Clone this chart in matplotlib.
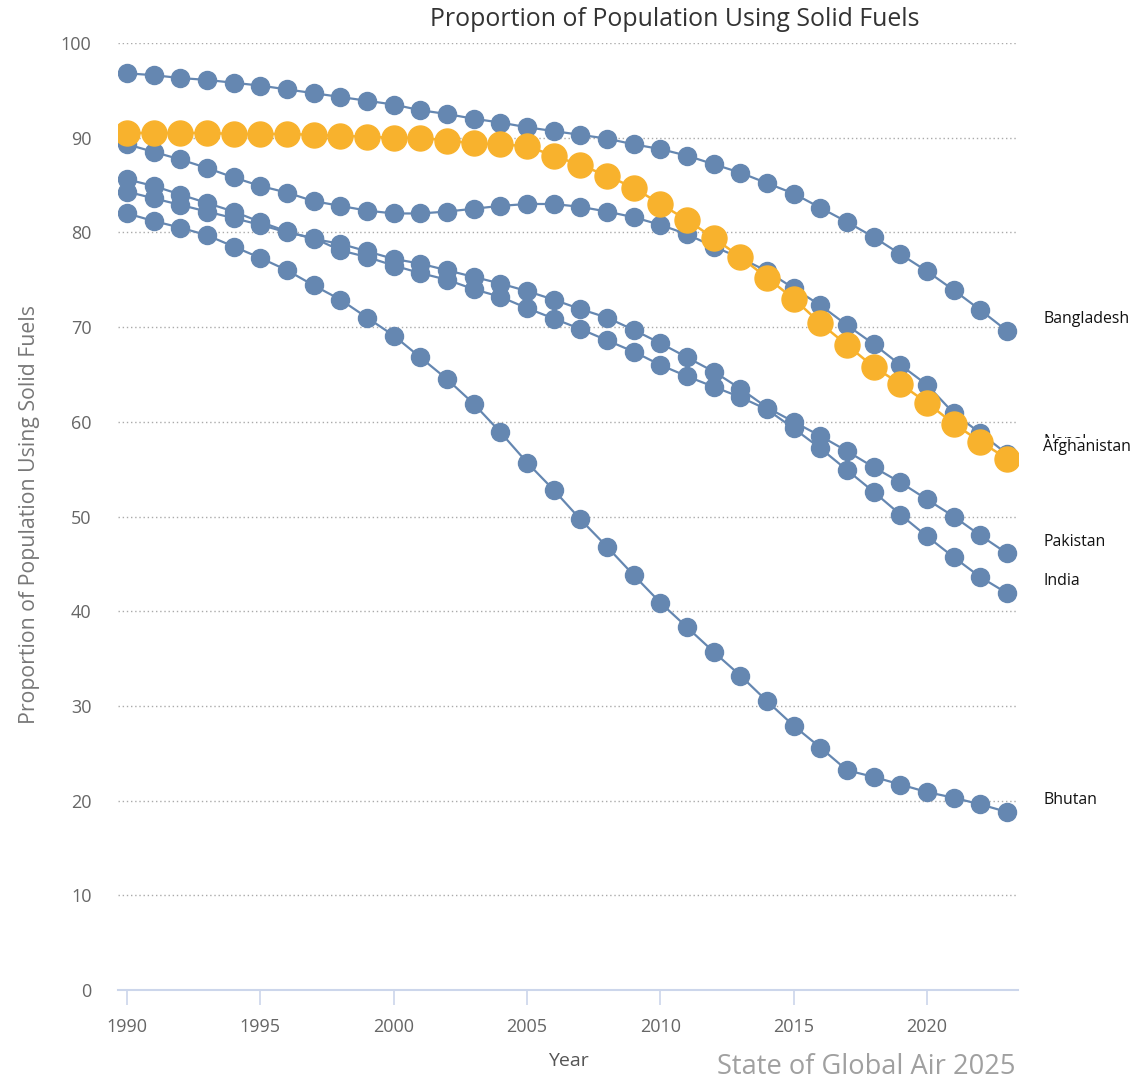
import matplotlib
matplotlib.use("Agg")
import matplotlib.pyplot as plt
import numpy as np

years = list(range(1990, 2024))

bangladesh = [96.8, 96.6, 96.3, 96.1, 95.8, 95.5, 95.1, 94.7, 94.3, 93.9,
              93.5, 92.9, 92.5, 92.0, 91.6, 91.1, 90.7, 90.3, 89.9, 89.3,
              88.8, 88.1, 87.2, 86.3, 85.2, 84.1, 82.6, 81.1, 79.5, 77.7,
              75.9, 73.9, 71.8, 69.6]
nepal = [89.3, 88.5, 87.7, 86.8, 85.8, 84.9, 84.2, 83.3, 82.8, 82.3,
         82.0, 82.0, 82.2, 82.5, 82.8, 83.0, 83.0, 82.7, 82.2, 81.6,
         80.8, 79.8, 78.5, 77.3, 75.9, 74.1, 72.3, 70.2, 68.2, 66.0,
         63.9, 60.9, 58.8, 56.6]
pakistan = [85.6, 84.9, 84.0, 83.1, 82.2, 81.1, 80.1, 79.3, 78.8, 78.0,
            77.2, 76.7, 76.0, 75.3, 74.6, 73.8, 72.9, 71.9, 71.0, 69.7,
            68.3, 66.8, 65.3, 63.5, 61.5, 60.0, 58.5, 56.9, 55.2, 53.6,
            51.8, 50.0, 48.0, 46.1]
india = [84.3, 83.6, 82.9, 82.2, 81.5, 80.8, 80.0, 79.4, 78.1, 77.4,
         76.5, 75.7, 75.0, 74.0, 73.2, 72.0, 70.9, 69.8, 68.6, 67.4,
         66.0, 64.8, 63.7, 62.6, 61.3, 59.3, 57.2, 54.9, 52.6, 50.2,
         47.9, 45.7, 43.6, 41.9]
bhutan = [82.0, 81.2, 80.5, 79.7, 78.5, 77.3, 76.0, 74.4, 72.9, 71.0,
          69.1, 66.8, 64.5, 61.9, 58.9, 55.7, 52.8, 49.7, 46.8, 43.8,
          40.9, 38.3, 35.7, 33.2, 30.5, 27.9, 25.6, 23.2, 22.5, 21.7,
          20.9, 20.3, 19.6, 18.8]
afghanistan = [90.5, 90.5, 90.5, 90.5, 90.4, 90.4, 90.4, 90.3, 90.2, 90.1,
               90.0, 90.0, 89.7, 89.4, 89.3, 89.1, 88.1, 87.1, 86.0, 84.7,
               83.0, 81.3, 79.4, 77.4, 75.2, 73.0, 70.4, 68.1, 65.8, 64.0,
               62.0, 59.8, 57.9, 56.1]

blue_series = {"Bangladesh": bangladesh, "Nepal": nepal, "Pakistan": pakistan,
               "India": india, "Bhutan": bhutan}
highlight_name = "Afghanistan"
highlight = afghanistan

y_ticks = [0, 10, 20, 30, 40, 50, 60, 70, 80, 90, 100]
x_ticks = [1990, 1995, 2000, 2005, 2010, 2015, 2020]

plt.rcParams['font.family'] = ['Open Sans', 'DejaVu Sans']

BLUE = "#6587b1"
ORANGE = "#f8b22d"

fig = plt.figure(figsize=(11.48, 10.79), dpi=100)
ax = fig.add_axes([118/1148, 89/1079, 900/1148, 947/1079])
ax.set_xlim(1989.66, 2023.41)
ax.set_ylim(0, 100)

for yv in y_ticks[1:]:
    ax.axhline(yv, color="#aaaaaa", lw=1.0, ls=(0, (1, 2)), zorder=0)

for name, vals in blue_series.items():
    ax.plot(years, vals, color=BLUE, lw=1.6, marker="o", ms=13,
            mfc=BLUE, mec=BLUE, zorder=2)
ax.plot(years, highlight, color=ORANGE, lw=1.8, marker="o", ms=18,
        mfc=ORANGE, mec=ORANGE, zorder=3)

all_series = dict(blue_series)
all_series[highlight_name] = highlight
for name, vals in all_series.items():
    is_hl = name == highlight_name
    ax.annotate(name, xy=(years[-1], vals[-1]), xytext=(26, 8.5),
                textcoords="offset points", fontsize=11.4, color="#111111",
                va="center", ha="left", annotation_clip=False,
                zorder=6 if is_hl else 5,
                bbox=dict(boxstyle="square,pad=0.05", fc="white", ec="none")
                if is_hl else None)

for s in ["top", "right", "left"]:
    ax.spines[s].set_visible(False)
ax.spines["bottom"].set_color("#ccd6eb")
ax.spines["bottom"].set_linewidth(1.5)

ax.set_yticks(y_ticks)
ax.set_yticklabels([str(v) for v in y_ticks])
ax.tick_params(axis="y", length=0, pad=19, labelsize=13, labelcolor="#666666")
ax.set_xticks(x_ticks)
ax.set_xticklabels([str(v) for v in x_ticks])
ax.tick_params(axis="x", length=11, width=1.2, color="#ccd6eb", pad=9,
               labelsize=13, labelcolor="#666666")

ax.set_xlabel("Year", fontsize=14, color="#555555", labelpad=12)
ax.set_ylabel("Proportion of Population Using Solid Fuels", fontsize=15.3,
              color="#777777")
ax.yaxis.set_label_coords(-0.087, 0.5016)

fig.text(675/1148, 1 - 20/1079, "Proportion of Population Using Solid Fuels",
         ha="center", va="center", fontsize=17.9, color="#333333")
fig.text(1016/1148, 1 - 1067/1079, "State of Global Air 2025",
         ha="right", va="center", fontsize=19.6, color="#a0a0a0")

fig.savefig("out.png", dpi=100)
